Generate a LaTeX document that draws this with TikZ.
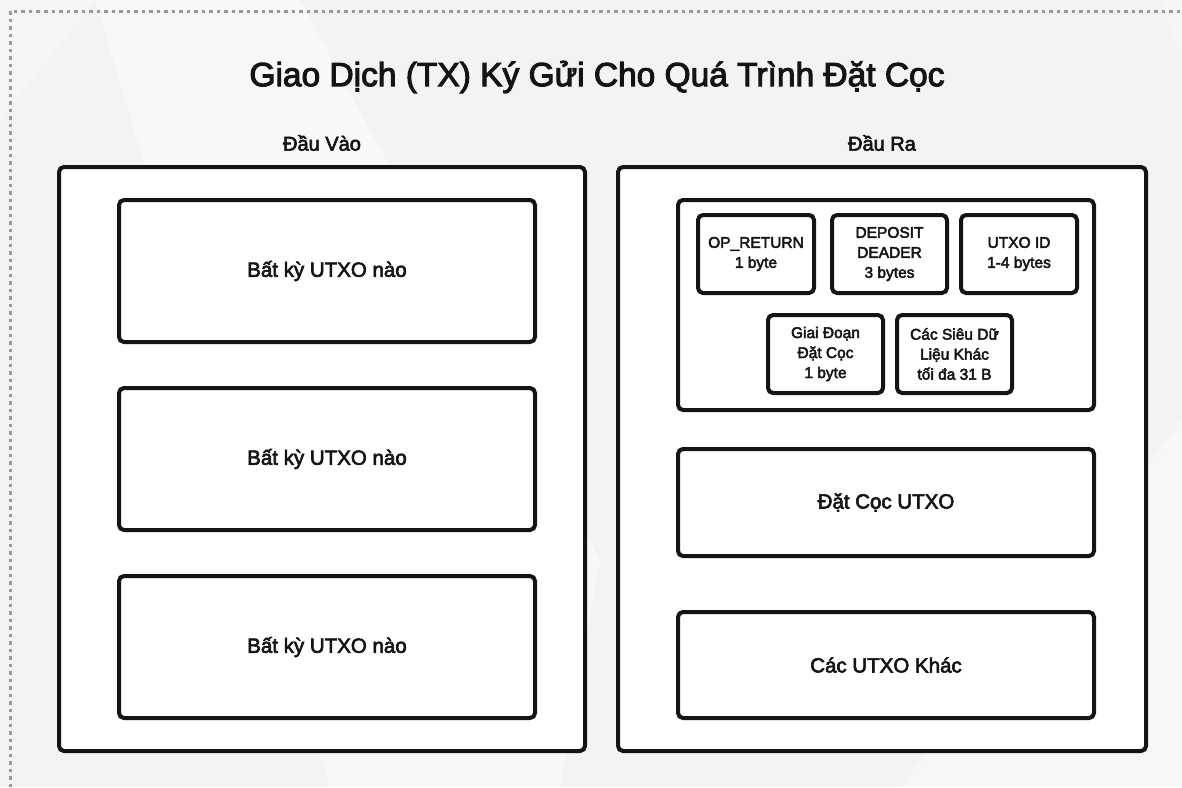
\documentclass[tikz,border=0pt]{standalone}
\usepackage{fontspec}
\setmainfont[FakeBold=3]{Liberation Sans}
\definecolor{bgcol}{HTML}{F3F3F3}
\definecolor{ink}{HTML}{141414}
\definecolor{dashcol}{HTML}{9A9A9A}
\tikzset{
  panel/.style={draw=ink, line width=4pt, rounded corners=5pt, fill=white, inner sep=0pt},
  bigbox/.style={panel, font=\fontsize{20.5}{24}\selectfont, text=ink, align=center},
  smallbox/.style={panel, font=\fontsize{15.5}{20}\selectfont, text=ink, align=center},
  heading/.style={font=\fontsize{20}{24}\selectfont, text=ink},
  titletext/.style={font=\fontsize{33.5}{38}\selectfont, text=ink}
}
\begin{document}
\begin{tikzpicture}[x=1pt,y=-1pt]
  % canvas and soft background facets
  \fill[bgcol] (0,0) rectangle (1182,787);
  \useasboundingbox (0,0) rectangle (1182,787);
  \fill[white,opacity=0.45] (95,0) -- (300,0) -- (600,560) -- (560,787) -- (330,787) -- cycle;
  \fill[white,opacity=0.35] (900,787) -- (1182,420) -- (1182,787) -- cycle;
  \fill[white,opacity=0.3] (1160,0) -- (1182,0) -- (1182,60) -- cycle;
  \fill[white,opacity=0.25] (0,120) -- (95,0) -- (0,0) -- cycle;

  % dashed frame
  \draw[dashcol, line width=3pt, dash pattern=on 3.5pt off 4pt] (10,787) -- (10,11) -- (1182,11);

  % title and column headings
  \node[titletext] (title) at (597,77) {Giao Dịch (TX) Ký Gửi Cho Quá Trình Đặt Cọc};
  \node[heading] (hin) at (322,143) {Đầu Vào};
  \node[heading] (hout) at (882,143) {Đầu Ra};

  % input column
  \node[panel, minimum width=526pt, minimum height=584pt] (outL) at (322,459) {};
  \node[bigbox, minimum width=416pt, minimum height=142pt] (in1) at (327,271) {Bất kỳ UTXO nào};
  \node[bigbox, minimum width=416pt, minimum height=142pt] (in2) at (327,459) {Bất kỳ UTXO nào};
  \node[bigbox, minimum width=416pt, minimum height=142pt] (in3) at (327,647) {Bất kỳ UTXO nào};

  % output column
  \node[panel, minimum width=528pt, minimum height=584pt] (outR) at (882,459) {};
  \node[panel, minimum width=416pt, minimum height=210pt] (meta) at (886,305) {};
  \node[smallbox, minimum width=116pt, minimum height=78pt] (opret) at (756,254) {OP\_RETURN\\1 byte};
  \node[smallbox, minimum width=115pt, minimum height=78pt] (dephdr) at (889.5,254) {DEPOSIT\\DEADER\\3 bytes};
  \node[smallbox, minimum width=116pt, minimum height=78pt] (uid) at (1019,254) {UTXO ID\\1-4 bytes};
  \node[smallbox, minimum width=115pt, minimum height=78pt] (phase) at (825.5,354) {Giai Đoạn\\Đặt Cọc\\1 byte};
  \node[smallbox, minimum width=115pt, minimum height=78pt] (other) at (954.5,354) {Các Siêu Dữ\\Liệu Khác\\tối đa 31 B};
  \node[bigbox, minimum width=416pt, minimum height=107pt] (dep) at (886,502.5) {Đặt Cọc UTXO};
  \node[bigbox, minimum width=416pt, minimum height=106pt] (rest) at (886,665) {Các UTXO Khác};
\end{tikzpicture}
\end{document}
